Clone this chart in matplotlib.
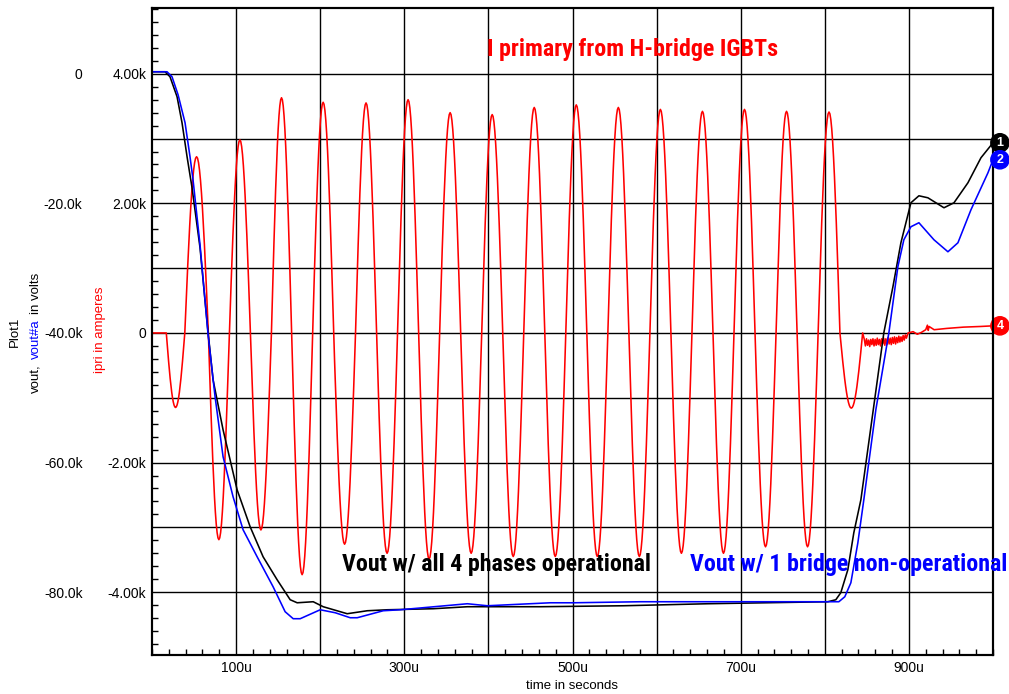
import numpy as np
import matplotlib
matplotlib.use("Agg")
import matplotlib.pyplot as plt
from matplotlib import font_manager
from matplotlib.ticker import MultipleLocator

plt.rcParams['font.family'] = ['Liberation Sans', 'DejaVu Sans']

# ipri (kA): zero crossings of each half cycle (us) and the peak of each half cycle
ipri_zero_us = [17, 39, 67, 92, 117, 142, 166, 191, 216, 242, 267, 292, 317, 342, 367, 392, 417,
                442, 467, 492, 517, 542, 567, 592, 617, 642, 667, 692, 717, 742, 767, 792, 818, 845]
ipri_peak_k = [-1.15, 2.72, -3.19, 2.98, -3.04, 3.63, -3.73, 3.56, -3.26, 3.55, -3.40, 3.60,
               -3.49, 3.40, -3.40, 3.37, -3.45, 3.48, -3.45, 3.52, -3.45, 3.48, -3.45, 3.45,
               -3.40, 3.42, -3.40, 3.45, -3.30, 3.42, -3.30, 3.41, -1.16]
# ringing after the bridge stops (847..896 us)
ipri_ripple_k = [-0.10, -0.20, -0.09, -0.19, -0.11, -0.21, -0.10, -0.18, -0.09, -0.20,
                 -0.10, -0.19, -0.08, -0.18, -0.10, -0.20, -0.09, -0.17, -0.08, -0.19,
                 -0.09, -0.18, -0.07, -0.17, -0.08, -0.18, -0.07, -0.16, -0.06, -0.17,
                 -0.07, -0.15, -0.05, -0.14, -0.06, -0.13, -0.04, -0.11, -0.03, -0.08]
ipri_tail_us = [899, 905, 910, 915, 920, 922, 923, 924, 930, 945, 965, 985, 1000]
ipri_tail_k = [0.0, 0.02, -0.02, 0.01, 0.05, 0.12, 0.04, 0.10, 0.05, 0.07, 0.09, 0.10, 0.11]

# vout, all 4 phases (kV)
vout_t = [0, 15.5, 21.4, 29.8, 35.7, 41.7, 47.6, 57.1, 66.7, 72.6, 84.5, 101.2, 116.7, 132.1,
          148.8, 164.3, 172.6, 191.7, 203.6, 232.1, 256.0, 279.8, 334.5, 375.0, 461.9, 560.7,
          660.7, 803.6, 813.1, 819.0, 827.4, 834.5, 842.9, 856.0, 870.2, 881.0, 890.5, 902.4,
          911.9, 922.6, 941.7, 953.6, 970.2, 985.7, 1000]
vout_v = [0.31, 0.31, -0.46, -3.55, -7.56, -12.81, -17.59, -26.85, -39.97, -47.22, -54.94,
          -64.20, -69.91, -74.54, -78.09, -81.17, -81.64, -81.48, -82.25, -83.33, -82.87,
          -82.72, -82.56, -82.25, -82.25, -82.10, -81.79, -81.48, -81.17, -80.09, -76.54,
          -70.83, -65.74, -53.40, -39.97, -32.87, -26.08, -19.91, -18.83, -19.14, -20.68,
          -19.91, -16.82, -12.96, -10.65]

# vout#a, one bridge non-operational (kV)
vouta_t = [0, 17.9, 23.8, 31.0, 39.3, 45.2, 48.8, 57.1, 66.7, 75.0, 84.5, 96.4, 108.3, 125.0,
           144.0, 158.3, 167.9, 176.2, 200.0, 217.9, 235.7, 244.0, 275.0, 295.2, 375.0, 398.8,
           473.8, 501.2, 581.0, 700.0, 803.6, 816.7, 823.8, 831.0, 839.3, 846.4, 860.7, 876.2,
           886.9, 894.0, 902.4, 911.9, 929.8, 946.4, 958.3, 973.8, 994.0, 1000]
vouta_v = [0.31, 0.31, -0.46, -3.24, -7.56, -12.81, -16.36, -26.39, -40.28, -49.85, -59.10,
           -65.28, -70.37, -74.54, -79.17, -83.02, -84.10, -84.10, -82.72, -83.18, -83.95,
           -83.95, -82.87, -82.72, -81.79, -82.10, -81.64, -81.64, -81.48, -81.48, -81.48,
           -81.48, -80.71, -78.55, -72.38, -65.74, -51.85, -39.97, -29.78, -25.62, -23.61,
           -22.99, -25.62, -27.47, -26.08, -20.99, -15.28, -13.27]

x_ticks = [100, 200, 300, 400, 500, 600, 700, 800, 900]
x_labels = ['100u', '', '300u', '', '500u', '', '700u', '', '900u']
ipri_ticks = [-4, -3, -2, -1, 0, 1, 2, 3, 4]
ipri_labels = ['-4.00k', '', '-2.00k', '', '0', '', '2.00k', '', '4.00k']
vout_ticks = [-80, -60, -40, -20, 0]
vout_labels = ['-80.0k', '-60.0k', '-40.0k', '-20.0k', '0']

# build the red trace from the half cycles
t_parts = [np.array([0.0, ipri_zero_us[0]])]
v_parts = [np.array([0.0, 0.0])]
for z0, z1, pk in zip(ipri_zero_us[:-1], ipri_zero_us[1:], ipri_peak_k):
    s = np.linspace(0, 1, 25)
    t_parts.append(z0 + s * (z1 - z0))
    v_parts.append(pk * np.sin(np.pi * s))
t_parts.append(np.linspace(847, 897, len(ipri_ripple_k)))
v_parts.append(np.array(ipri_ripple_k))
t_parts.append(np.array(ipri_tail_us, float))
v_parts.append(np.array(ipri_tail_k))
ipri_t = np.concatenate(t_parts)
ipri_v = np.concatenate(v_parts)

W, H = 1009, 694
fig = plt.figure(figsize=(W / 100, H / 100), dpi=100)
ax = fig.add_axes([152 / W, 1 - 655 / H, (993 - 152) / W, (655 - 8) / H])
axv = ax.twinx()
axv.yaxis.tick_left()

ilim = (-4.97, 5.015)
ax.set_xlim(0, 1000)
ax.set_ylim(*ilim)
axv.set_ylim((ilim[0] - 4) * 10, (ilim[1] - 4) * 10)

ax.plot(ipri_t, ipri_v, color='#ff0000', lw=1.15)
axv.plot(vout_t, vout_v, color='black', lw=1.15)
axv.plot(vouta_t, vouta_v, color='#0000ff', lw=1.15)

ax.set_xticks(x_ticks, x_labels)
ax.set_yticks(ipri_ticks, ipri_labels)
axv.set_yticks(vout_ticks, vout_labels)
ax.grid(True, color='black', lw=1)
ax.xaxis.set_minor_locator(MultipleLocator(20))
ax.yaxis.set_minor_locator(MultipleLocator(0.2))
ax.tick_params(which='major', length=0, labelsize=10, pad=4)
ax.tick_params(which='minor', direction='in', length=4, width=1)
axv.tick_params(length=0, labelsize=10, pad=50)
for a in (ax, axv):
    for sp in a.spines.values():
        sp.set_linewidth(1.5)

# end-of-trace markers
for a, num, val, col in [(axv, '1', vout_v[-1], 'black'), (axv, '2', vouta_v[-1], '#0000ff'),
                         (ax, '4', ipri_tail_k[-1], '#ff0000')]:
    a.annotate(num, xy=(1000, val), xytext=(5, 0), textcoords='offset points',
               ha='center', va='center', color='white', fontsize=9, fontweight='bold',
               bbox=dict(boxstyle='circle,pad=0.25', fc=col, ec=col), annotation_clip=False)

# big labels: pick a condensed bold face if one is installed, then fit to width
fonts = font_manager.fontManager.ttflist
names = {f.name for f in fonts}
big = dict(family='Liberation Sans', fontweight='bold')
for cand in ['Liberation Sans Narrow', 'Arial Narrow', 'Roboto Condensed', 'Open Sans Condensed',
             'DejaVu Sans Condensed']:
    if cand in names:
        big = dict(family=cand, fontweight='bold')
        break
else:
    if any(f.name == 'DejaVu Sans' and 'condensed' in str(f.stretch) for f in fonts):
        big = dict(family='DejaVu Sans', fontstretch='condensed', fontweight='bold')

renderer = fig.canvas.get_renderer()
big_texts = [
    (487, 56, 290, 'I primary from H-bridge IGBTs', '#ff0000'),
    (342, 571, 309, 'Vout w/ all 4 phases operational', 'black'),
    (690, 571, 317, 'Vout w/ 1 bridge non-operational', '#0000ff'),
]
for x0, y0, wpx, s, col in big_texts:
    t = fig.text(x0 / W, 1 - y0 / H, s, color=col, ha='left', va='baseline', fontsize=16, **big)
    w = t.get_window_extent(renderer).width
    t.set_fontsize(16 * wpx / w)

# axis titles
fig.text(572 / W, 1 - 686 / H, 'time in seconds', ha='center', va='center', fontsize=9.5)
fig.text(15 / W, 1 - 332 / H, 'Plot1', rotation=90, ha='center', va='center', fontsize=9.5)
for txt, y0, col in [('vout,', 393, 'black'), ('vout#a', 359, '#0000ff'), ('in volts', 314, 'black')]:
    fig.text(36 / W, 1 - y0 / H, txt, rotation=90, rotation_mode='anchor', ha='left', va='center',
             color=col, fontsize=9.5)
fig.text(100 / W, 1 - 330 / H, 'ipri in amperes', rotation=90, ha='center', va='center',
         color='#ff0000', fontsize=9.5)

fig.savefig('out.png', dpi=100)
